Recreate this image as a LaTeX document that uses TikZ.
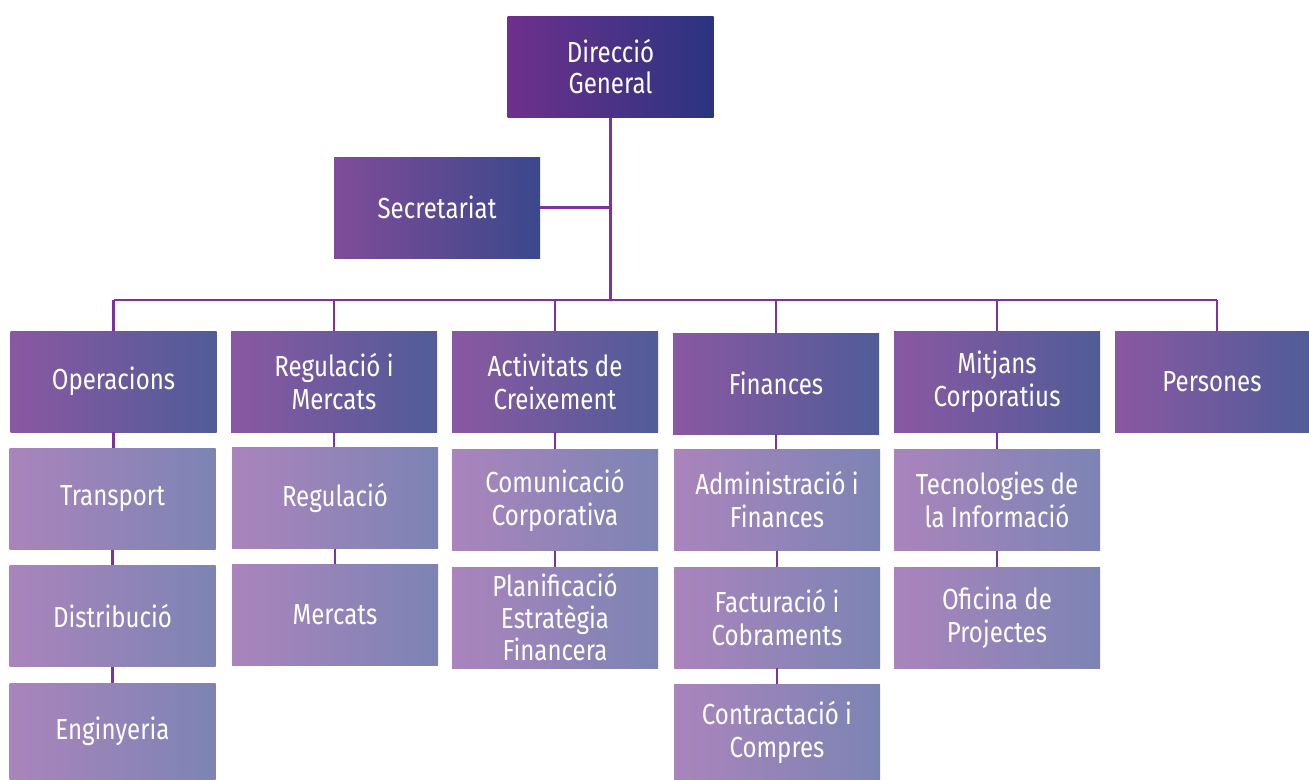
\documentclass[tikz,border=0pt]{standalone}
\usepackage{fontspec}
\setmainfont{Fira Sans}[FakeStretch=0.83]
\definecolor{topL}{RGB}{110,48,140}
\definecolor{topR}{RGB}{42,52,128}
\definecolor{secL}{RGB}{128,76,152}
\definecolor{secR}{RGB}{58,72,140}
\definecolor{lvL}{RGB}{138,88,162}
\definecolor{lvR}{RGB}{80,92,152}
\definecolor{lwL}{RGB}{170,132,188}
\definecolor{lwR}{RGB}{124,132,180}
\definecolor{conn}{RGB}{125,50,160}
\begin{document}
\begin{tikzpicture}[x=1pt,y=-1pt,
  box/.style={inner sep=0pt, minimum width=206pt, minimum height=101pt, align=center,
    text=white, font=\fontsize{29}{33}\selectfont},
  topbox/.style={box, left color=topL, right color=topR},
  secbox/.style={box, left color=secL, right color=secR},
  lvbox/.style={box, left color=lvL, right color=lvR},
  lwbox/.style={box, left color=lwL, right color=lwR},
  link/.style={draw=conn, line width=2.6pt}]
\useasboundingbox (0,0) rectangle (1309,779);
% top
\node[topbox, font=\fontsize{29}{31}\selectfont] (dg) at (610.5,67) {Direcció\\General};
\node[secbox] (sec) at (437,207.5) {Secretariat};
% level 2
\node[lvbox] (op) at (113.5,381.5) {Operacions};
\node[lvbox] (rm) at (334,381.5) {Regulació i\\Mercats};
\node[lvbox] (ac) at (555,381.5) {Activitats de\\Creixement};
\node[lvbox] (fi) at (776,383.5) {Finances};
\node[lvbox] (mc) at (997,381.5) {Mitjans\\Corporatius};
\node[lvbox, minimum width=194pt] (pe) at (1212,382) {Persones};
% level 3
\node[lwbox] (tr) at (112.5,499) {Transport};
\node[lwbox] (di) at (112.5,616) {Distribució};
\node[lwbox, minimum height=97pt] (en) at (112.5,731.5) {Enginyeria};
\node[lwbox] (re) at (335,498) {Regulació};
\node[lwbox] (me) at (335,615) {Mercats};
\node[lwbox] (cc) at (555,500) {Comunicació\\Corporativa};
\node[lwbox, font=\fontsize{29}{32}\selectfont] (pl) at (555,617.5) {Planificació\\Estratègia\\Financera};
\node[lwbox] (af) at (777,500) {Administració i\\Finances};
\node[lwbox] (fc) at (777,617.5) {Facturació i\\Cobraments};
\node[lwbox, minimum height=95pt] (co) at (777,732) {Contractació i\\Compres};
\node[lwbox] (ti) at (997,500) {Tecnologies de\\la Informació};
\node[lwbox] (of) at (997,617.5) {Oficina de\\Projectes};
% connectors
\coordinate (hub) at (610.5,300);
\coordinate (pebus) at (1217,300);
\draw[link] (dg.south) -- (hub);
\draw[link] (sec.east) -- (sec.east -| dg.south);
\draw[link] (op.north |- hub) -- (pebus);
\draw[link] (op.north |- hub) -- (op.north);
\draw[link] (rm.north |- hub) -- (rm.north);
\draw[link] (ac.north |- hub) -- (ac.north);
\draw[link] (fi.north |- hub) -- (fi.north);
\draw[link] (mc.north |- hub) -- (mc.north);
\draw[link] (pebus) -- (pebus |- pe.north);
\draw[link] (op.south) -- (op.south |- tr.north);
\draw[link] (tr.south) -- (tr.south |- di.north);
\draw[link] (di.south) -- (di.south |- en.north);
\draw[link] (rm.south) -- (rm.south |- re.north);
\draw[link] (re.south) -- (re.south |- me.north);
\draw[link] (ac.south) -- (ac.south |- cc.north);
\draw[link] (cc.south) -- (cc.south |- pl.north);
\draw[link] (fi.south) -- (fi.south |- af.north);
\draw[link] (af.south) -- (af.south |- fc.north);
\draw[link] (fc.south) -- (fc.south |- co.north);
\draw[link] (mc.south) -- (mc.south |- ti.north);
\draw[link] (ti.south) -- (ti.south |- of.north);
\end{tikzpicture}
\end{document}
